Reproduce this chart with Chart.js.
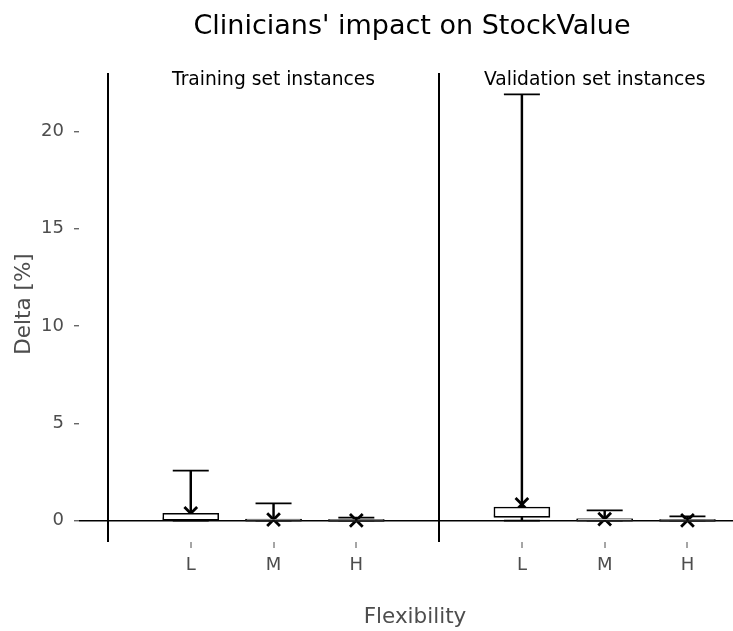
<!DOCTYPE html>
<html>
<head>
<meta charset="utf-8">
<title>Clinicians' impact on StockValue</title>
<script src="https://cdn.jsdelivr.net/npm/chart.js@4.4.1/dist/chart.umd.min.js"></script>
<style>
  html, body { margin: 0; padding: 0; background: #ffffff; overflow: hidden; }
  #wrap { width: 733px; height: 631px; }
</style>
</head>
<body>
<div id="wrap"><canvas id="chart" width="733" height="631"></canvas></div>
<script>
// Facets and categories
const panels = ['Training set instances', 'Validation set instances'];
const categories = ['L', 'M', 'H'];

// Five-number summaries and means of Delta [%], per facet
const trainMin    = [0.00, 0.00, 0.00];
const trainQ1     = [0.02, 0.00, 0.00];
const trainMedian = [0.10, 0.02, 0.01];
const trainQ3     = [0.38, 0.08, 0.05];
const trainMax    = [2.57, 0.89, 0.16];
const trainMean   = [0.38, 0.05, 0.02];

const validMin    = [0.00, 0.00, 0.00];
const validQ1     = [0.17, 0.00, 0.00];
const validMedian = [0.25, 0.03, 0.01];
const validQ3     = [0.70, 0.10, 0.05];
const validMax    = [21.90, 0.53, 0.22];
const validMean   = [0.84, 0.08, 0.02];

// Y ticks
const yTicks = [0, 5, 10, 15, 20];

// Each facet occupies 4 units on the shared x axis; categories sit at 1..3 inside it
const facetWidth = 4;
const facetData = [
  { min: trainMin, q1: trainQ1, med: trainMedian, q3: trainQ3, max: trainMax, mean: trainMean },
  { min: validMin, q1: validQ1, med: validMedian, q3: validQ3, max: validMax, mean: validMean }
];

function pos(f, i) { return f * facetWidth + i + 1; }

function collect(fn) {
  const out = [];
  facetData.forEach((d, f) => categories.forEach((c, i) => out.push(fn(d, f, i))));
  return out;
}

const tickToLabel = {};
panels.forEach((p, f) => categories.forEach((c, i) => { tickToLabel[pos(f, i)] = c; }));

const INK = '#000000';
const GREY = '#4d4d4d';

const upperWhiskers = collect((d, f, i) => ({ x: pos(f, i), y: [d.q3[i], d.max[i]] }));
const lowerWhiskers = collect((d, f, i) => ({ x: pos(f, i), y: [d.min[i], d.q1[i]] }));
const boxes = collect((d, f, i) => ({ x: pos(f, i), y: [d.q1[i], d.q3[i]] }));
const medians = collect((d, f, i) => ({ x: pos(f, i), y: d.med[i] }));
const topCaps = collect((d, f, i) => ({ x: pos(f, i), y: d.max[i] }));
const bottomCaps = collect((d, f, i) => ({ x: pos(f, i), y: d.min[i] }));
const means = collect((d, f, i) => ({ x: pos(f, i), y: d.mean[i] }));

// Titles, axis titles and facet strip labels
const textPlugin = {
  id: 'textLayer',
  afterDraw(chart) {
    const { ctx, scales } = chart;
    const fam = '"DejaVu Sans", Verdana, sans-serif';
    ctx.save();
    ctx.textAlign = 'center';
    ctx.textBaseline = 'alphabetic';

    ctx.fillStyle = INK;
    ctx.font = '27px ' + fam;
    ctx.fillText("Clinicians' impact on StockValue", 412, 34);

    ctx.font = '18.7px ' + fam;
    ctx.fillText(panels[0], scales.x.getPixelForValue(2), 85);
    ctx.fillText(panels[1], scales.x.getPixelForValue(5.88), 85);

    ctx.fillStyle = GREY;
    ctx.font = '21.5px ' + fam;
    ctx.fillText('Flexibility', 415, 623);

    ctx.translate(30, 304);
    ctx.rotate(-Math.PI / 2);
    ctx.fillText('Delta [%]', 0, 0);
    ctx.restore();
  }
};

const whiskerStyle = {
  type: 'bar', grouped: false, barThickness: 1.8,
  backgroundColor: INK, borderWidth: 0
};
const capStyle = {
  type: 'scatter', pointStyle: 'line', pointRadius: 18,
  borderColor: INK, pointBorderWidth: 1.8, showLine: false
};

new Chart(document.getElementById('chart'), {
  type: 'bar',
  data: {
    datasets: [
      Object.assign({ label: 'upper whisker', data: upperWhiskers }, whiskerStyle),
      Object.assign({ label: 'lower whisker', data: lowerWhiskers }, whiskerStyle),
      {
        label: 'box', type: 'bar', data: boxes, grouped: false, barThickness: 56,
        backgroundColor: '#ffffff', borderColor: INK, borderWidth: 1.6, borderSkipped: false
      },
      {
        label: 'median', type: 'scatter', data: medians, pointStyle: 'line', pointRadius: 28,
        borderColor: '#222222', pointBorderWidth: 2.6, showLine: false
      },
      Object.assign({ label: 'upper cap', data: topCaps }, capStyle),
      Object.assign({ label: 'lower cap', data: bottomCaps }, capStyle),
      {
        label: 'mean', type: 'scatter', data: means, pointStyle: 'crossRot', pointRadius: 9,
        borderColor: INK, pointBorderWidth: 2.8, showLine: false
      }
    ]
  },
  options: {
    responsive: false,
    animation: false,
    events: [],
    layout: { autoPadding: false, padding: { top: 73, left: 0, right: 0, bottom: 0 } },
    plugins: { legend: { display: false }, tooltip: { enabled: false }, title: { display: false } },
    scales: {
      x: {
        type: 'linear',
        offset: false,
        min: -0.35,
        max: 7.55,
        afterBuildTicks(scale) {
          const t = [];
          for (let v = 0; v <= 2 * facetWidth - 1; v++) t.push({ value: v });
          scale.ticks = t;
        },
        afterFit(scale) {
          scale.height = 89;
          scale.paddingLeft = 0;
          scale.paddingRight = 0;
        },
        border: { display: false },
        grid: {
          offset: false,
          color: c => (c.tick && c.tick.value % facetWidth === 0) ? INK : 'rgba(0,0,0,0)',
          lineWidth: 2,
          tickColor: c => (c.tick && c.tick.value % facetWidth === 0) ? 'rgba(0,0,0,0)' : GREY,
          tickLength: 6,
          tickWidth: 1
        },
        ticks: {
          autoSkip: false,
          maxRotation: 0,
          padding: 7,
          color: GREY,
          font: { family: '"DejaVu Sans", Verdana, sans-serif', size: 18 },
          callback: v => tickToLabel[v] || ''
        }
      },
      y: {
        type: 'linear',
        min: -1.095,
        max: 22.995,
        afterBuildTicks(scale) { scale.ticks = yTicks.map(v => ({ value: v })); },
        afterFit(scale) { scale.width = 79; },
        border: { display: false },
        grid: {
          color: c => (c.tick && c.tick.value === 0) ? INK : 'rgba(0,0,0,0)',
          lineWidth: 1.5,
          tickColor: GREY,
          tickLength: 5,
          tickWidth: 1.2
        },
        ticks: {
          padding: 10,
          color: GREY,
          font: { family: '"DejaVu Sans", Verdana, sans-serif', size: 18 }
        }
      }
    }
  },
  plugins: [textPlugin]
});
</script>
</body>
</html>
